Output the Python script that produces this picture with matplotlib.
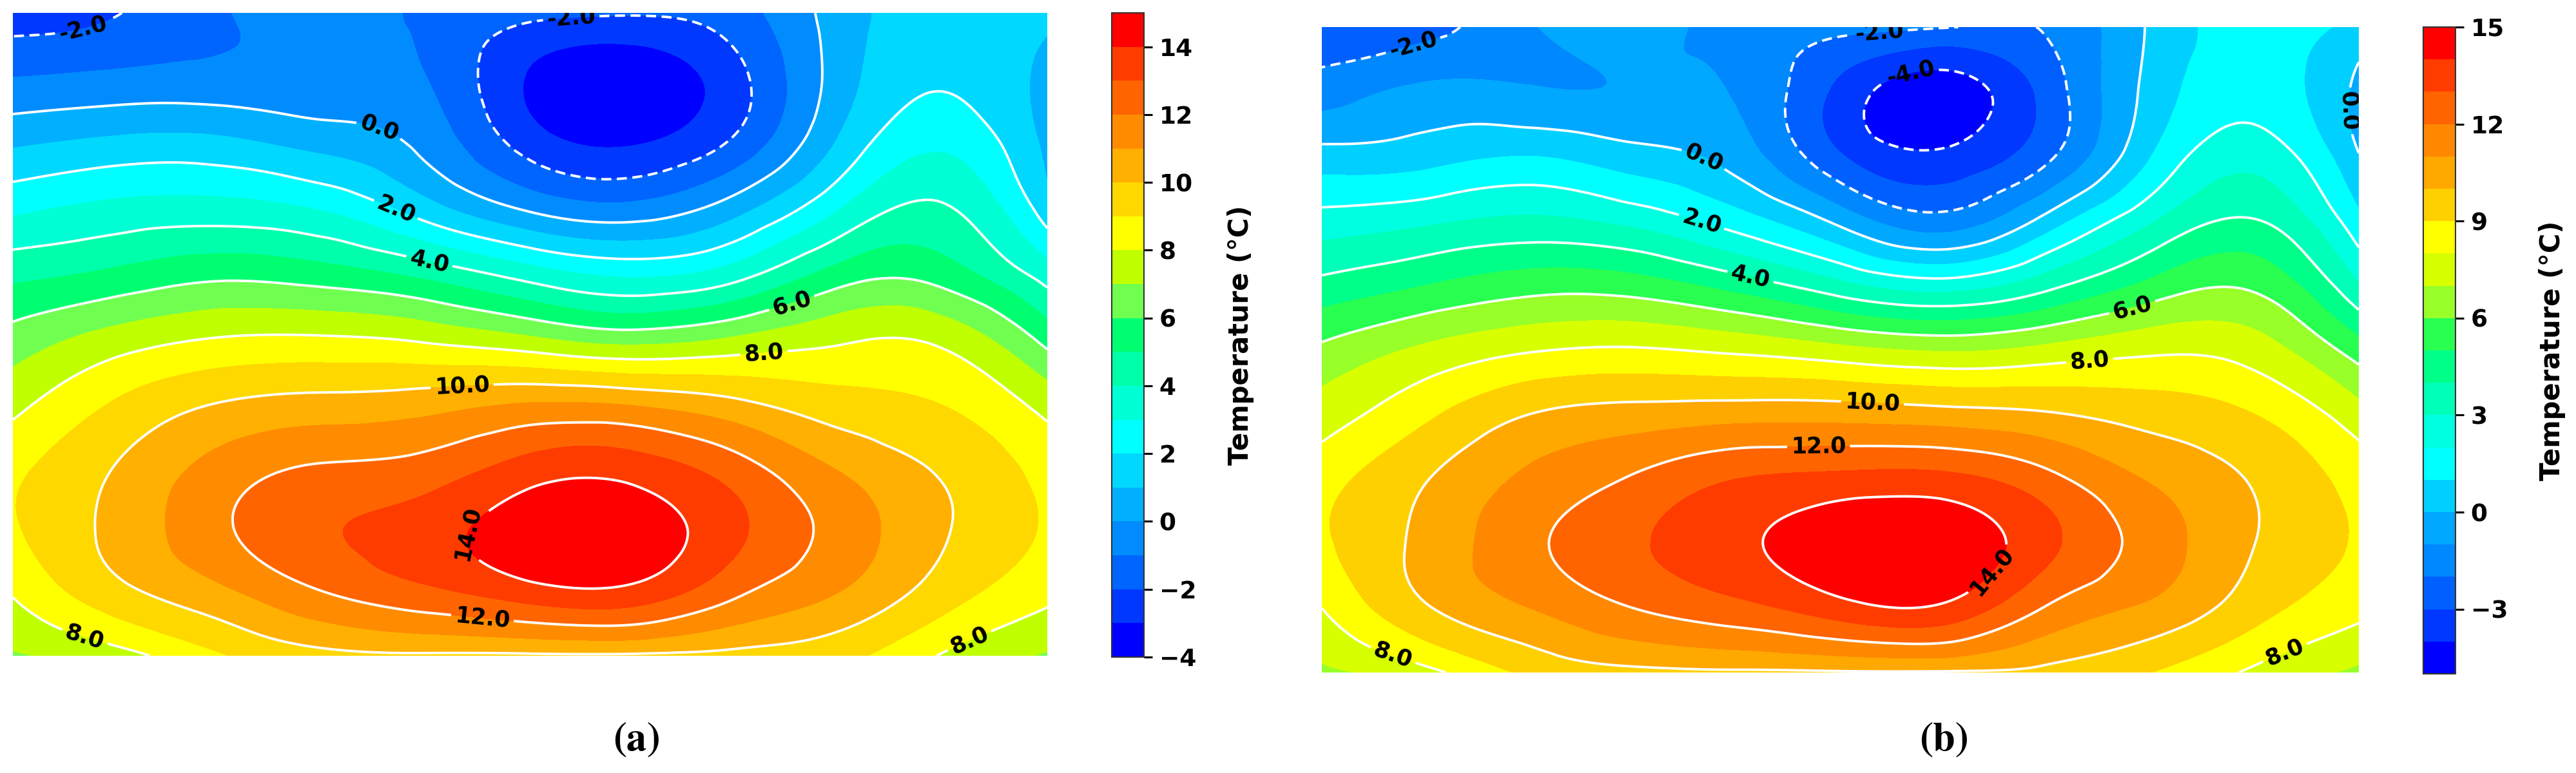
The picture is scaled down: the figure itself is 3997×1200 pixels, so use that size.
import numpy as np
import matplotlib
matplotlib.use("Agg")
import matplotlib.pyplot as plt
import matplotlib.tri as mtri

# ---------------- data ----------------
x_pos = [0.0, 0.1, 0.2, 0.3, 0.4, 0.5, 0.6, 0.7, 0.8, 0.9, 1.0]
y_pos = [0.0, 0.1, 0.2, 0.3, 0.4, 0.5, 0.6, 0.7, 0.8, 0.9, 1.0]

# rows: bottom (y=0) -> top (y=1); columns: left -> right
temp_a = [
    [6.9, 7.6, 8.9, 9.7, 9.85, 9.85, 9.85, 9.7, 9.3, 7.9, 6.9],
    [8.1, 9.7, 10.8, 12.0, 12.8, 13.6, 13.7, 12.2, 11.0, 9.5, 8.3],
    [8.9, 10.3, 11.8, 12.9, 13.5, 14.7, 14.7, 13.2, 11.6, 10.1, 8.9],
    [8.7, 10.0, 11.3, 12.0, 12.3, 13.3, 13.4, 12.3, 10.8, 9.8, 8.6],
    [7.6, 9.0, 9.9, 10.2, 10.4, 10.8, 10.6, 10.0, 9.3, 8.9, 7.5],
    [6.3, 7.3, 7.9, 7.95, 7.6, 6.9, 6.3, 6.9, 7.7, 7.6, 5.5],
    [4.6, 5.1, 5.6, 5.3, 4.5, 3.3, 2.6, 3.4, 5.3, 5.4, 3.4],
    [2.7, 3.2, 3.3, 2.8, 1.3, -0.3, -0.8, 0.5, 2.9, 4.05, 1.4],
    [0.8, 1.2, 1.2, 0.6, -0.35, -2.5, -3.1, -1.8, 1.15, 2.75, 0.75],
    [-1.0, -0.8, -0.7, -0.7, -1.0, -3.1, -3.65, -2.3, 0.5, 1.85, 0.7],
    [-2.5, -2.05, -1.1, -0.7, -1.15, -1.7, -1.9, -1.4, 0.5, 1.5, 1.3],
]

temp_b = [
    [6.8, 7.7, 9.2, 9.75, 9.85, 9.9, 9.9, 9.75, 9.0, 7.8, 6.8],
    [8.0, 9.9, 11.0, 12.0, 12.7, 13.6, 13.8, 11.9, 10.8, 9.4, 8.3],
    [8.85, 10.3, 11.75, 12.85, 13.75, 14.75, 14.85, 13.25, 11.55, 10.0, 8.9],
    [8.6, 9.95, 11.2, 12.1, 13.0, 13.3, 13.3, 12.3, 10.9, 9.9, 8.6],
    [7.5, 8.8, 10.0, 10.4, 10.6, 10.6, 10.4, 10.1, 9.6, 9.0, 7.4],
    [6.2, 7.2, 7.9, 8.1, 7.8, 7.3, 6.9, 7.3, 7.8, 7.5, 5.5],
    [4.3, 5.0, 5.6, 5.5, 4.6, 3.3, 2.5, 3.7, 5.3, 5.8, 3.1],
    [2.4, 2.8, 3.2, 2.7, 1.5, -0.3, -1.6, 0.4, 2.9, 4.05, 1.3],
    [0.4, 0.6, 1.0, 0.4, -0.45, -2.9, -3.8, -2.2, 1.0, 2.6, 0.05],
    [-1.5, -0.8, -0.9, -0.9, -1.1, -3.3, -4.5, -2.6, 0.35, 1.6, -0.25],
    [-2.6, -2.4, -1.1, -0.7, -1.3, -1.7, -1.95, -1.9, 0.15, 1.45, 0.6],
]

fill_levels_a = list(range(-4, 16))
fill_levels_b = list(range(-5, 16))
line_levels = [-4, -2, 0, 2, 4, 6, 8, 10, 12, 14]
ticks_a = [-4, -2, 0, 2, 4, 6, 8, 10, 12, 14]
ticks_b = [-3, 0, 3, 6, 9, 12, 15]
cbar_label = "Temperature (°C)"
panel_labels = ["a", "b"]

# ---------------- style ----------------
colors_a = ['#0000FF', '#0038FF', '#0064FF', '#008CFF', '#00B0FF', '#00D8FF',
            '#00FFFF', '#00FFD4', '#00FFAA', '#00FF70', '#70FF50', '#BFFF00',
            '#FFFF00', '#FFD800', '#FFB000', '#FF8C00', '#FF6400', '#FF3C00',
            '#FF0000']
colors_b = ['#0000FF', '#0038FF', '#0060FF', '#0088FF', '#00A8FF', '#00D0FF',
            '#00FFFF', '#00FFE0', '#00FFB8', '#00FF88', '#28FF50', '#98FF28',
            '#D8FF00', '#FFFF00', '#FFD000', '#FFA800', '#FF8800', '#FF6400',
            '#FF3C00', '#FF0000']

label_spots_a = [(0.068, 0.973), (0.54, 0.987), (0.353, 0.815), (0.373, 0.705),
                 (0.403, 0.616), (0.753, 0.549), (0.726, 0.471), (0.434, 0.426),
                 (0.44, 0.19), (0.454, 0.06), (0.071, 0.037), (0.922, 0.034)]
label_spots_b = [(0.091, 0.955), (0.538, 0.987), (0.57, 0.915), (0.367, 0.792),
                 (0.367, 0.703), (0.413, 0.61), (0.783, 0.558), (0.99, 0.87),
                 (0.741, 0.473), (0.531, 0.418), (0.479, 0.355), (0.649, 0.152),
                 (0.072, 0.043), (0.927, 0.038)]

plt.rcParams['font.family'] = ['DejaVu Sans']
plt.rcParams['font.weight'] = 'bold'

fig = plt.figure(figsize=(39.98, 12.0), dpi=100)
fig.patch.set_facecolor('white')

ax_a = fig.add_axes([20 / 3998, 1 - 1018 / 1200, 1605 / 3998, 998 / 1200])
cax_a = fig.add_axes([1725 / 3998, 1 - 1020 / 1200, 50 / 3998, 1000 / 1200])
ax_b = fig.add_axes([2051 / 3998, 1 - 1044 / 1200, 1609 / 3998, 1002 / 1200])
cax_b = fig.add_axes([3760 / 3998, 1 - 1046 / 1200, 50 / 3998, 1004 / 1200])


def draw_panel(ax, cax, rows, levels, colors, ticks, spots, label_x):
    X, Y = np.meshgrid(x_pos, y_pos)
    Z = np.array(rows, dtype=float)
    tri = mtri.Triangulation(X.ravel(), Y.ravel())
    interp = mtri.CubicTriInterpolator(tri, Z.ravel(), kind='min_E')
    tri_r, z_r = mtri.UniformTriRefiner(tri).refine_field(
        Z.ravel(), triinterpolator=interp, subdiv=5)
    z_r = np.clip(z_r, levels[0] + 1e-3, levels[-1] - 1e-3)

    cf = ax.tricontourf(tri_r, z_r, levels=levels, colors=colors)
    styles = [(0, (4, 2.2)) if lv < 0 else 'solid' for lv in line_levels]
    cs = ax.tricontour(tri_r, z_r, levels=line_levels, colors='white',
                       linewidths=2.8, linestyles=styles)
    ax.clabel(cs, manual=spots, fmt='%.1f', fontsize=25, inline=True,
              inline_spacing=6, colors='black')
    ax.set_xlim(0, 1)
    ax.set_ylim(0, 1)
    ax.set_axis_off()

    cb = fig.colorbar(cf, cax=cax, ticks=ticks)
    cb.outline.set_linewidth(1.5)
    cb.outline.set_edgecolor('#333333')
    cax.tick_params(labelsize=27, length=9, width=2.2, pad=8)
    for t in cax.get_yticklabels():
        t.set_fontweight('bold')
    cb.set_label(cbar_label, fontsize=30, fontweight='bold')
    cax.yaxis.set_label_coords(label_x, 0.5)
    cax.yaxis.label.set_verticalalignment('center')
    return cb


draw_panel(ax_a, cax_a, temp_a, fill_levels_a, colors_a, ticks_a, label_spots_a, 4.0)
draw_panel(ax_b, cax_b, temp_b, fill_levels_b, colors_b, ticks_b, label_spots_b, 4.0)

for name, xf in zip(panel_labels, [987 / 3998, 3016 / 3998]):
    fig.text(xf, 1 - 1148 / 1200, r'$(\mathbf{' + name + r'})$',
             math_fontfamily='stix', fontsize=45, ha='center', va='center',
             color='black')

fig.savefig('out.png', dpi=100, facecolor='white')
